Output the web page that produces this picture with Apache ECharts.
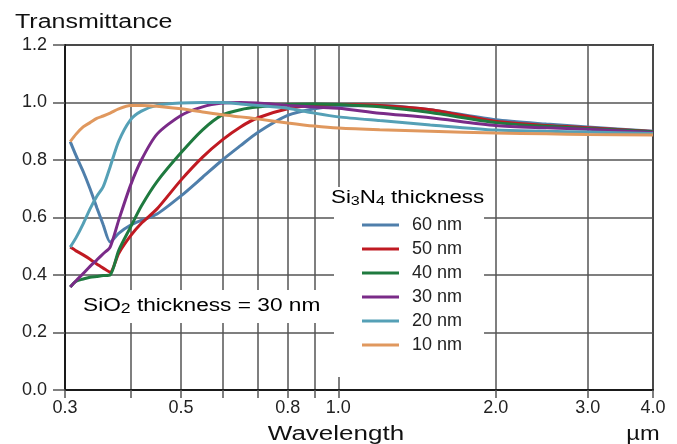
<!DOCTYPE html>
<html>
<head>
<meta charset="utf-8">
<script src="https://cdn.jsdelivr.net/npm/echarts@6/dist/echarts.min.js"></script>
<style>
    html, body { margin: 0; padding: 0; background: #fff; }
    #chart { width: 677px; height: 444px; }
</style>
</head>
<body>
<div id="chart"></div>
<script>
    // wavelength in µm, shared by all curves
    var wavelength = [0.307, 0.315, 0.325, 0.335, 0.345, 0.355, 0.366, 0.38, 0.4, 0.42, 0.45, 0.5, 0.55, 0.6, 0.65, 0.7, 0.8, 0.9, 1.0, 1.2, 1.5, 2.0, 2.5, 3.0, 4.0];

    var t60 = [0.864, 0.815, 0.76, 0.70, 0.635, 0.575, 0.515, 0.545, 0.573, 0.59, 0.612, 0.675, 0.74, 0.80, 0.85, 0.895, 0.955, 0.978, 0.988, 0.99, 0.975, 0.94, 0.925, 0.915, 0.90];
    var t50 = [0.497, 0.484, 0.47, 0.455, 0.438, 0.424, 0.41, 0.475, 0.535, 0.58, 0.63, 0.73, 0.81, 0.87, 0.915, 0.946, 0.978, 0.99, 0.993, 0.99, 0.975, 0.935, 0.92, 0.912, 0.899];
    var t40 = [0.358, 0.378, 0.386, 0.392, 0.395, 0.398, 0.40, 0.485, 0.565, 0.64, 0.725, 0.825, 0.905, 0.957, 0.975, 0.984, 0.993, 0.995, 0.993, 0.985, 0.965, 0.93, 0.917, 0.91, 0.898];
    var t30 = [0.358, 0.38, 0.405, 0.43, 0.452, 0.474, 0.497, 0.59, 0.71, 0.80, 0.89, 0.955, 0.985, 0.998, 1.0, 0.998, 0.99, 0.984, 0.98, 0.963, 0.947, 0.92, 0.912, 0.907, 0.896];
    var t20 = [0.497, 0.53, 0.578, 0.63, 0.673, 0.707, 0.776, 0.865, 0.939, 0.97, 0.99, 0.998, 1.0, 1.0, 0.995, 0.99, 0.98, 0.963, 0.95, 0.937, 0.922, 0.904, 0.9, 0.897, 0.892];
    var t10 = [0.864, 0.89, 0.915, 0.93, 0.945, 0.953, 0.963, 0.978, 0.99, 0.99, 0.987, 0.978, 0.967, 0.957, 0.95, 0.943, 0.929, 0.918, 0.911, 0.905, 0.9, 0.894, 0.891, 0.889, 0.887];

    var seriesNames = ['60 nm', '50 nm', '40 nm', '30 nm', '20 nm', '10 nm'];
    var seriesValues = [t60, t50, t40, t30, t20, t10];
    var colors = ['#4f7fab', '#c01a22', '#1f7a3f', '#7a2b88', '#55a0b6', '#e0985e'];

    var xTicks = [0.3, 0.4, 0.5, 0.6, 0.7, 0.8, 0.9, 1.0, 2.0, 3.0, 4.0];
    var xLabels = [0.3, 0.5, 0.8, 1.0, 2.0, 3.0, 4.0];

    var font = '"Liberation Sans", Arial, sans-serif';
    var chart = echarts.init(document.getElementById('chart'));

    var series = seriesNames.map(function (name, k) {
        return {
            name: name,
            type: 'line',
            smooth: 0.25,
            symbol: 'none',
            z: 3,
            lineStyle: { width: 3, color: colors[k] },
            itemStyle: { color: colors[k] },
            data: wavelength.map(function (w, i) { return [w, seriesValues[k][i]]; })
        };
    });

    var option = {
        animation: false,
        backgroundColor: '#fff',
        grid: {
            left: 65, right: 24, top: 45, bottom: 54,
            show: true, borderColor: '#2a2a2a', borderWidth: 2
        },
        xAxis: {
            type: 'log',
            logBase: 10,
            min: 0.3,
            max: 4.0,
            axisLine: { lineStyle: { color: '#1a1a1a', width: 2 } },
            axisTick: { show: true, length: 8, customValues: xTicks, lineStyle: { color: '#555', width: 1.5 } },
            axisLabel: {
                customValues: xLabels,
                margin: 9,
                fontSize: 18,
                fontFamily: font,
                color: '#222',
                formatter: function (v) { return Number(v).toFixed(1); }
            },
            splitLine: { show: true, lineStyle: { color: '#555', width: 1.5 } },
            minorSplitLine: { show: false }
        },
        yAxis: {
            type: 'value',
            min: 0,
            max: 1.2,
            interval: 0.2,
            axisLine: { show: true, lineStyle: { color: '#1a1a1a', width: 2 } },
            axisTick: { show: true, length: 12, lineStyle: { color: '#555', width: 1.5 } },
            axisLabel: {
                margin: 18,
                fontSize: 18,
                fontFamily: font,
                color: '#222',
                formatter: function (v) { return v.toFixed(1); }
            },
            splitLine: { show: true, lineStyle: { color: '#555', width: 1.5 } }
        },
        legend: {
            orient: 'vertical',
            left: 353,
            top: 209,
            padding: [7, 22, 24, 9],
            backgroundColor: '#fff',
            icon: 'rect',
            itemWidth: 37,
            itemHeight: 3,
            itemGap: 6,
            data: seriesNames,
            textStyle: { fontSize: 18, fontFamily: font, color: '#222', lineHeight: 18, padding: [0, 0, 0, 8] }
        },
        graphic: [
            {
                type: 'text', x: 15, y: 22, z: 10, scaleX: 1.25,
                style: { text: 'Transmittance', font: '20px ' + font, fill: '#111', verticalAlign: 'middle' }
            },
            {
                type: 'text', x: 336, y: 434, z: 10, scaleX: 1.3,
                style: { text: 'Wavelength', font: '20px ' + font, fill: '#111', align: 'center', verticalAlign: 'middle' }
            },
            {
                type: 'text', x: 643, y: 434, z: 10, scaleX: 1.18,
                style: { text: 'µm', font: '20px ' + font, fill: '#111', align: 'center', verticalAlign: 'middle' }
            },
            {
                type: 'rect', z: 1,
                shape: { x: 76, y: 290, width: 252, height: 33 },
                style: { fill: '#fff' }
            },
            {
                type: 'text', x: 83, y: 306, z: 10, scaleX: 1.26,
                style: {
                    text: '{n|SiO}{s|2}{n| thickness = 30 nm}',
                    verticalAlign: 'middle',
                    rich: {
                        n: { fontSize: 18, fontFamily: font, color: '#222', lineHeight: 20 },
                        s: { fontSize: 14, fontFamily: font, color: '#222', lineHeight: 10, verticalAlign: 'bottom' }
                    }
                }
            },
            {
                type: 'rect', z: 1,
                shape: { x: 334, y: 187, width: 148, height: 190 },
                style: { fill: '#fff' }
            },
            {
                type: 'text', x: 331, y: 198, z: 10, scaleX: 1.24,
                style: {
                    text: '{n|Si}{s|3}{n|N}{s|4}{n| thickness}',
                    verticalAlign: 'middle',
                    rich: {
                        n: { fontSize: 18, fontFamily: font, color: '#222', lineHeight: 20 },
                        s: { fontSize: 13, fontFamily: font, color: '#222', lineHeight: 14, verticalAlign: 'bottom' }
                    }
                }
            }
        ],
        series: series
    };

    chart.setOption(option);
    window.addEventListener('resize', function () {
        chart.resize();
    });
</script>
</body>
</html>
